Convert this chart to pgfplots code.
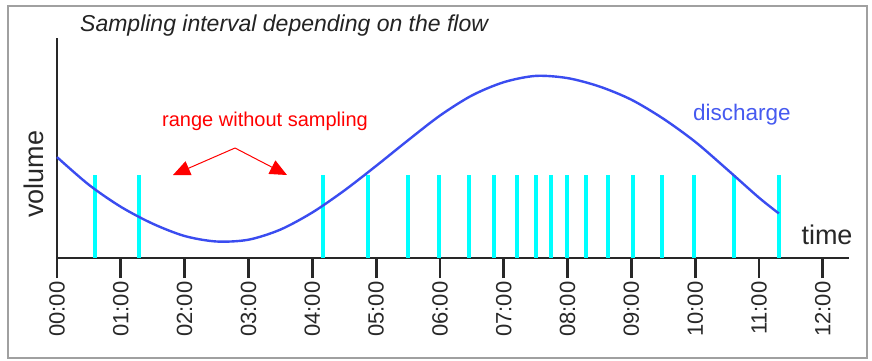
\documentclass[border=0pt]{standalone}
\usepackage{pgfplots}
\pgfplotsset{compat=1.18}
\usepackage{fontspec}
\setmainfont{Liberation Sans}
\usetikzlibrary{arrows.meta}
\definecolor{curveblue}{RGB}{58,76,240}
\definecolor{textblue}{RGB}{70,90,240}
\definecolor{samplecyan}{RGB}{0,255,255}
\definecolor{axisgray}{RGB}{40,40,40}
\definecolor{framegray}{RGB}{160,160,160}
\definecolor{titlegray}{RGB}{35,35,35}
\begin{document}
\begin{tikzpicture}[x=1bp,y=1bp]
\useasboundingbox (0,0) rectangle (872,-360);
\fill[white] (0,0) rectangle (872,-360);
\draw[framegray, line width=2bp] (7.5,-5.5) rectangle (867,-357.5);
\begin{axis}[
  at={(57bp,-258bp)}, anchor=south west,
  scale only axis, width=792bp, height=220bp,
  xmin=0, xmax=12.41, ymin=0, ymax=220,
  axis x line=bottom, axis y line=left,
  axis line style={axisgray, line width=2.8bp, -},
  xtick={0,1,2,3,4,5,6,7,8,9,10,11,12},
  xticklabels={00:00,01:00,02:00,03:00,04:00,05:00,06:00,07:00,08:00,09:00,10:00,11:00,12:00},
  ytick=\empty,
  xtick align=outside,
  major tick length=20bp,
  every tick/.style={axisgray, line width=2.8bp},
  xticklabel style={rotate=90, anchor=east, font=\fontsize{22bp}{26bp}\selectfont, text=axisgray},
  clip=false,
]
\addplot[ycomb, samplecyan, line width=4bp, no marks] coordinates {
 (0.596,83) (1.29,83) (4.174,83) (4.879,83) (5.497,83) (5.992,83) (6.453,83)
 (6.854,83) (7.205,83) (7.503,83) (7.748,83) (7.989,83) (8.287,83) (8.636,83)
 (9.028,83) (9.478,83) (9.980,83) (10.607,83) (11.307,83)
};
\addplot[curveblue, line width=2.4bp, smooth, no marks] coordinates {
 (0,100.9) (0.5,73.2) (1.0,51.2) (1.5,34.3) (2.0,22.0) (2.5,16.5) (3.0,18.3)
 (3.5,28.4) (4.0,45.5) (4.5,67.4) (5.0,92.1) (5.5,117.7) (6.0,142.4)
 (6.5,162.5) (7.0,175.8) (7.5,182.1) (8.0,179.9) (8.5,171.5) (9.0,158.3)
 (9.5,139.3) (10.0,116.2) (10.5,88.6) (11.0,60.3) (11.31,44.6)
};
\end{axis}
\node[anchor=base west, inner sep=0, text=titlegray, font=\fontsize{23bp}{27bp}\selectfont\itshape] at (80,-31) {Sampling interval depending on the flow};
\node[anchor=base west, inner sep=0, text=red, font=\fontsize{20bp}{24bp}\selectfont] at (162,-126) {range without sampling};
\node[anchor=base west, inner sep=0, text=textblue, font=\fontsize{22.5bp}{26bp}\selectfont] at (693,-120) {discharge};
\node[anchor=base, inner sep=0, text=axisgray, font=\fontsize{27bp}{32bp}\selectfont] at (827,-244) {time};
\node[anchor=base, inner sep=0, rotate=90, text=axisgray, font=\fontsize{27bp}{32bp}\selectfont] at (43,-174) {volume};
\draw[red, line width=1bp, -{Triangle[length=17bp,width=15bp]}] (235,-148) -- (173,-175);
\draw[red, line width=1bp, -{Triangle[length=17bp,width=15bp]}] (235,-148) -- (287,-175);
\end{tikzpicture}
\end{document}
